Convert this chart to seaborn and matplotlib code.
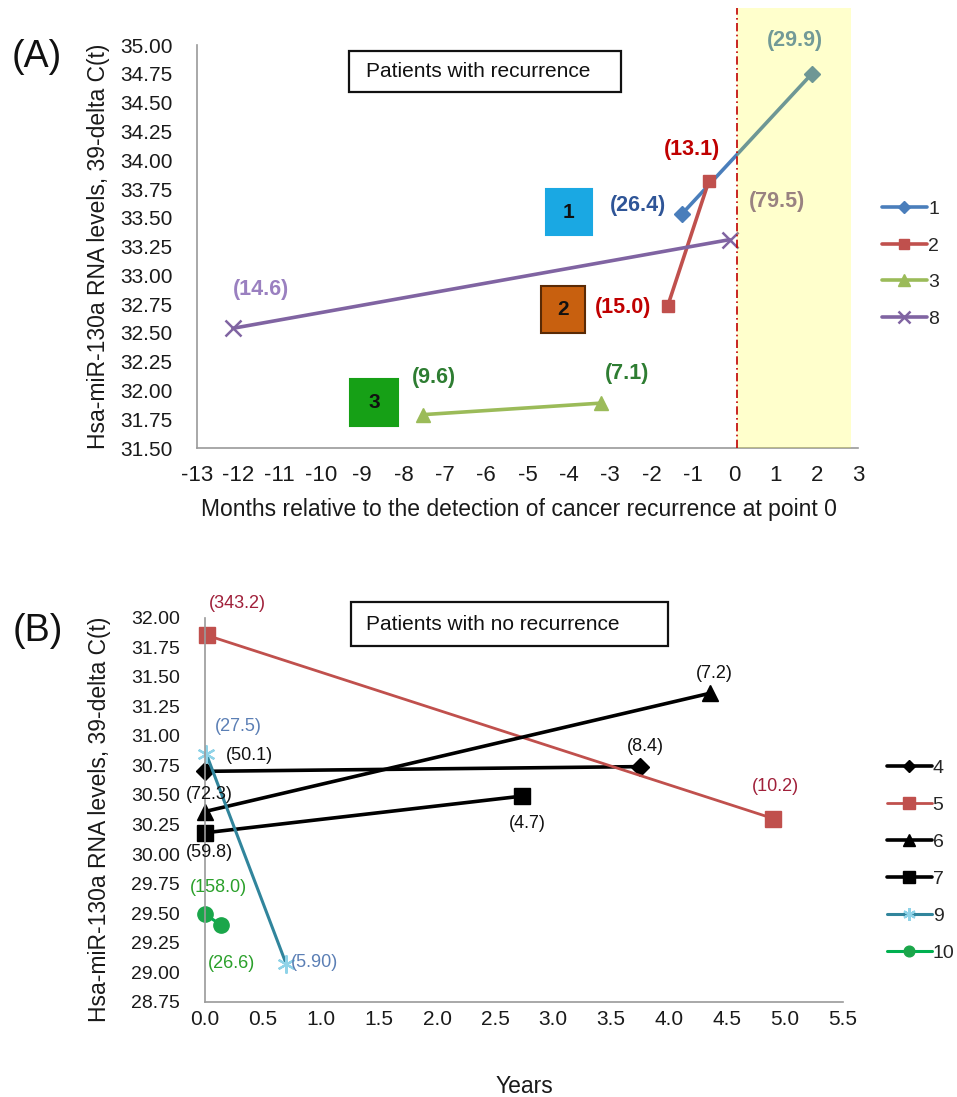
import numpy as np
import pandas as pd
import matplotlib
matplotlib.use("Agg")
import matplotlib.pyplot as plt
import seaborn as sns
from matplotlib.patches import Rectangle

# ---------------- Panel A data (patients with recurrence) ----------------
a_series = ["1", "2", "3", "8"]
a1_months = [-1.27, 1.88]
a1_levels = [33.53, 34.75]
a2_months = [-1.61, -0.61]
a2_levels = [32.73, 33.82]
a3_months = [-7.52, -3.22]
a3_levels = [31.79, 31.89]
a8_months = [-12.13, -0.11]
a8_levels = [32.54, 33.31]

a_xticks = list(range(-13, 4))
a_yticks = [31.50, 31.75, 32.00, 32.25, 32.50, 32.75, 33.00, 33.25, 33.50,
            33.75, 34.00, 34.25, 34.50, 34.75, 35.00]

a_label_text = ["(29.9)", "(13.1)", "(26.4)", "(79.5)", "(15.0)", "(14.6)", "(9.6)", "(7.1)"]
a_label_x = [1.48, -1.01, -2.32, 1.05, -2.69, -11.44, -7.27, -2.60]
a_label_y = [35.04, 34.09, 33.61, 33.64, 32.72, 32.88, 32.11, 32.15]
a_label_col = ["#4f81bd", "#c00000", "#2f5597", "#8064a2", "#c00000", "#9a80c0", "#2e7d32", "#2e7d32"]

# ---------------- Panel B data (patients with no recurrence) ----------------
b_series = ["4", "5", "6", "7", "9", "10"]
b4_years = [0.0, 3.75]
b4_levels = [30.70, 30.74]
b5_years = [0.02, 4.90]
b5_levels = [31.85, 30.30]
b6_years = [0.0, 4.35]
b6_levels = [30.36, 31.36]
b7_years = [0.0, 2.73]
b7_levels = [30.18, 30.49]
b9_years = [0.01, 0.70]
b9_levels = [30.85, 29.07]
b10_years = [0.0, 0.14]
b10_levels = [29.49, 29.40]

b_xticks = [0.0, 0.5, 1.0, 1.5, 2.0, 2.5, 3.0, 3.5, 4.0, 4.5, 5.0, 5.5]
b_yticks = [28.75, 29.00, 29.25, 29.50, 29.75, 30.00, 30.25, 30.50, 30.75,
            31.00, 31.25, 31.50, 31.75, 32.00]

b_label_text = ["(343.2)", "(27.5)", "(50.1)", "(72.3)", "(59.8)", "(158.0)", "(26.6)",
                "(5.90)", "(7.2)", "(8.4)", "(10.2)", "(4.7)"]
b_label_x = [0.28, 0.29, 0.38, 0.04, 0.04, 0.12, 0.23, 0.74, 4.39, 3.80, 4.92, 2.78]
b_label_y = [32.12, 31.08, 30.83, 30.50, 30.01, 29.72, 29.07, 29.08, 31.53, 30.91, 30.57, 30.26]
b_label_col = ["#a0203a", "#5b7fb5", "#111111", "#111111", "#111111", "#2aa02a", "#2aa02a",
               "#5b7fb5", "#111111", "#111111", "#a0203a", "#111111"]
b_label_ha = ["center"] * 7 + ["left"] + ["center"] * 4

# ---------------- style ----------------
sns.set_style("white")
plt.rcParams["font.family"] = ["Liberation Sans", "DejaVu Sans"]

W, H = 957, 1097
fig = plt.figure(figsize=(W / 100, H / 100), dpi=100)

axA = fig.add_axes([197 / W, 1 - 448 / H, 661 / W, (448 - 8.3) / H])
axB = fig.add_axes([205 / W, 1 - 1001.8 / H, 638 / W, 384.1 / H])

AX_GREY = "#9a9a9a"


def style_axes(ax):
    for s in ["top", "right"]:
        ax.spines[s].set_visible(False)
    for s in ["left", "bottom"]:
        ax.spines[s].set_color(AX_GREY)
        ax.spines[s].set_linewidth(1.2)
    ax.tick_params(axis="both", direction="out", width=1.1,
                   color=AX_GREY, labelcolor="#1a1a1a")
    ax.grid(False)


# ---------------- Panel A ----------------
a_specs = [
    (a1_months, a1_levels, "#4a7ebb", "D", 8, "1"),
    (a2_months, a2_levels, "#c0504d", "s", 9, "2"),
    (a3_months, a3_levels, "#9bbb59", "^", 10, "3"),
    (a8_months, a8_levels, "#8064a2", "x", 11, "8"),
]
for xs, ys, c, m, ms, lab in a_specs:
    sns.lineplot(x=xs, y=ys, ax=axA, color=c, marker=m, markersize=ms,
                 markeredgecolor=c, markeredgewidth=1.8 if m == "x" else 1,
                 linewidth=2.6, label=lab, sort=False, estimator=None, clip_on=False)

axA.set_xlim(-13, 3)
axA.set_ylim(31.5, 35.32)
axA.set_xticks(a_xticks)
axA.set_xticklabels([str(t) for t in a_xticks], fontsize=16)
axA.set_yticks(a_yticks)
axA.set_yticklabels([f"{t:.2f}" for t in a_yticks], fontsize=15)
style_axes(axA)
axA.tick_params(axis="y", length=4, pad=13.5)
axA.tick_params(axis="x", length=4.5, pad=7.5)
axA.spines["left"].set_bounds(31.5, 35.0)
axA.spines["bottom"].set_bounds(-13, 3)

# recurrence window
axA.axvspan(0.08, 2.84, color="#ffff00", alpha=0.2, lw=0, zorder=10)
axA.axvline(0.08, color="#c00000", lw=1.2, ls=(0, (5, 2, 1, 2)), zorder=11)

for t, x, y, c in zip(a_label_text, a_label_x, a_label_y, a_label_col):
    axA.text(x, y, t, color=c, fontsize=15.5, fontweight="bold",
             ha="center", va="center", zorder=5)

# numbered boxes
for (x0, y0, x1, y1, fc, ec, txt) in [
    (-4.56, 33.35, -3.45, 33.75, "#1aa8e3", "#1aa8e3", "1"),
    (-4.68, 32.50, -3.60, 32.91, "#c8600f", "#5a2a05", "2"),
    (-9.29, 31.69, -8.14, 32.10, "#16a016", "#16a016", "3"),
]:
    axA.add_patch(Rectangle((x0, y0), x1 - x0, y1 - y0, facecolor=fc,
                            edgecolor=ec, lw=1.5, zorder=4))
    axA.text((x0 + x1) / 2, (y0 + y1) / 2, txt, fontsize=15, fontweight="bold",
             ha="center", va="center", color="#111111", zorder=6)

axA.add_patch(Rectangle((-9.33, 34.59), 6.60, 0.36, facecolor="white",
                        edgecolor="#111111", lw=1.6, zorder=4))
axA.text(-8.92, 34.77, "Patients with recurrence", fontsize=15, ha="left",
         va="center", color="#111111", zorder=6)

axA.set_xlabel("Months relative to the detection of cancer recurrence at point 0",
               fontsize=16.5, color="#1a1a1a")
axA.xaxis.set_label_coords(0.487, -0.114)
axA.set_ylabel("Hsa-miR-130a RNA levels, 39-delta C(t)", fontsize=16.5, color="#1a1a1a")
axA.yaxis.set_label_coords(-0.132, 0.459)

axA.legend(loc="center left", bbox_to_anchor=(1.036, 0.418), frameon=False,
           fontsize=14, borderpad=0, borderaxespad=0, handlelength=2.3,
           handletextpad=0.1, labelspacing=0.97, markerscale=0.8)

# ---------------- Panel B ----------------
b_specs = [
    (b4_years, b4_levels, "#000000", "#000000", "D", 9, 2.6, "4"),
    (b5_years, b5_levels, "#c0504d", "#c0504d", "s", 12, 2.0, "5"),
    (b6_years, b6_levels, "#000000", "#000000", "^", 12, 2.6, "6"),
    (b7_years, b7_levels, "#000000", "#000000", "s", 12, 2.6, "7"),
    (b9_years, b9_levels, "#31859c", "#8fd3e8", (6, 2, 0), 13, 2.2, "9"),
    (b10_years, b10_levels, "#00b050", "#1aa64a", "o", 11, 2.2, "10"),
]
for xs, ys, c, mc, m, ms, lw, lab in b_specs:
    sns.lineplot(x=xs, y=ys, ax=axB, color=c, marker=m, markersize=ms,
                 markeredgecolor=mc, markerfacecolor=mc,
                 markeredgewidth=1.6 if lab == "9" else 1,
                 linewidth=lw, label=lab, sort=False, estimator=None, clip_on=False)

axB.set_xlim(0, 5.5)
axB.set_ylim(28.75, 32.0)
axB.set_xticks(b_xticks)
axB.set_xticklabels([f"{t:.1f}" for t in b_xticks], fontsize=15)
axB.set_yticks(b_yticks)
axB.set_yticklabels([f"{t:.2f}" for t in b_yticks], fontsize=14)
style_axes(axB)
axB.tick_params(axis="y", length=5, pad=13)
axB.tick_params(axis="x", length=4.5, pad=1.5)

for t, x, y, c, ha in zip(b_label_text, b_label_x, b_label_y, b_label_col, b_label_ha):
    axB.text(x, y, t, color=c, fontsize=13, ha=ha, va="center", zorder=5,
             clip_on=False)

axB.add_patch(Rectangle((1.26, 31.76), 2.73, 0.37, facecolor="white",
                        edgecolor="#111111", lw=1.6, zorder=4, clip_on=False))
axB.text(1.39, 31.945, "Patients with no recurrence", fontsize=15, ha="left",
         va="center", color="#111111", zorder=6)

axB.set_xlabel("Years", fontsize=16.5, color="#1a1a1a")
axB.xaxis.set_label_coords(0.5, -0.191)
axB.set_ylabel("Hsa-miR-130a RNA levels, 39-delta C(t)", fontsize=16.5, color="#1a1a1a")
axB.yaxis.set_label_coords(-0.147, 0.476)

axB.legend(loc="center left", bbox_to_anchor=(1.069, 0.368), frameon=False,
           fontsize=14, borderpad=0, borderaxespad=0, handlelength=2.3,
           handletextpad=0.05, labelspacing=1.0, markerscale=0.7)

# panel letters
fig.text(12 / W, 1 - 57 / H, "(A)", fontsize=27, ha="left", va="center", color="#111111")
fig.text(13 / W, 1 - 631 / H, "(B)", fontsize=27, ha="left", va="center", color="#111111")

fig.savefig("out.png", dpi=100, facecolor="white")
